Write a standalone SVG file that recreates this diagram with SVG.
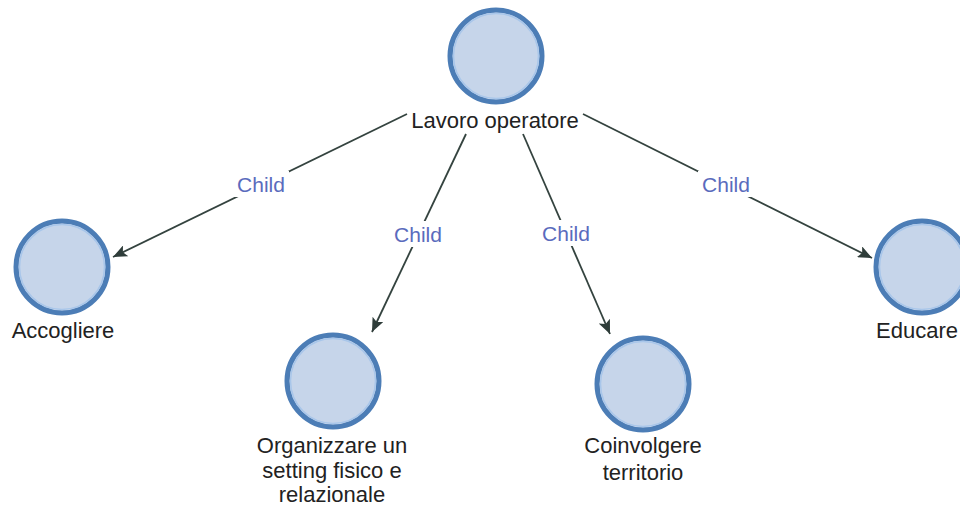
<svg xmlns="http://www.w3.org/2000/svg" width="960" height="507" viewBox="0 0 960 507">
<style>
.node circle.o{fill:#c6d5ea;stroke:#4c7db6;stroke-width:5}
.node circle.i{fill:none;stroke:#a8c6ea;stroke-width:1.5}
.lbl{font-family:"Liberation Sans",Arial,sans-serif;font-size:22px;fill:#222;text-anchor:middle}
.edge{stroke:#34433f;stroke-width:1.8;fill:none;marker-end:url(#arr)}
.elbl{font-family:"Liberation Sans",Arial,sans-serif;font-size:21px;fill:#5a6bbd;text-anchor:middle}
.bg{fill:#fff}
</style>
<defs>
<marker id="arr" markerWidth="16" markerHeight="12" refX="14" refY="6" orient="auto" markerUnits="userSpaceOnUse">
<path d="M0,0 L14,6 L0,12 L3,6 z" fill="#2f3d3a"/>
</marker>
</defs>
<rect width="960" height="507" fill="#fff"/>
<g id="connectors">
<line class="edge" x1="407" y1="114" x2="113" y2="257"/>
<line class="edge" x1="466" y1="134" x2="372" y2="332"/>
<line class="edge" x1="523" y1="134" x2="610" y2="334"/>
<line class="edge" x1="583" y1="114" x2="872" y2="258"/>
<rect class="bg" x="233" y="171" width="56" height="26"/>
<text class="elbl" x="261" y="192">Child</text>
<rect class="bg" x="390" y="221" width="56" height="26"/>
<text class="elbl" x="418" y="242">Child</text>
<rect class="bg" x="538" y="220" width="56" height="26"/>
<text class="elbl" x="566" y="241">Child</text>
<rect class="bg" x="698" y="171" width="56" height="26"/>
<text class="elbl" x="726" y="192">Child</text>
</g>
<g id="n-lavoro" class="node">
<circle class="o" cx="496" cy="56" r="46"/>
<circle class="i" cx="496" cy="56" r="42.5"/>
<text class="lbl" x="495" y="128">Lavoro operatore</text>
</g>
<g id="n-accogliere" class="node">
<circle class="o" cx="62" cy="267" r="46"/>
<circle class="i" cx="62" cy="267" r="42.5"/>
<text class="lbl" x="63" y="338">Accogliere</text>
</g>
<g id="n-organizzare" class="node">
<circle class="o" cx="333" cy="381" r="46"/>
<circle class="i" cx="333" cy="381" r="42.5"/>
<text class="lbl" x="332" y="453">Organizzare un</text>
<text class="lbl" x="332" y="478">setting fisico e</text>
<text class="lbl" x="332" y="502">relazionale</text>
</g>
<g id="n-coinvolgere" class="node">
<circle class="o" cx="643" cy="384" r="46"/>
<circle class="i" cx="643" cy="384" r="42.5"/>
<text class="lbl" x="643" y="453">Coinvolgere</text>
<text class="lbl" x="643" y="480">territorio</text>
</g>
<g id="n-educare" class="node">
<circle class="o" cx="922" cy="267" r="46"/>
<circle class="i" cx="922" cy="267" r="42.5"/>
<text class="lbl" x="917" y="338">Educare</text>
</g>
</svg>
